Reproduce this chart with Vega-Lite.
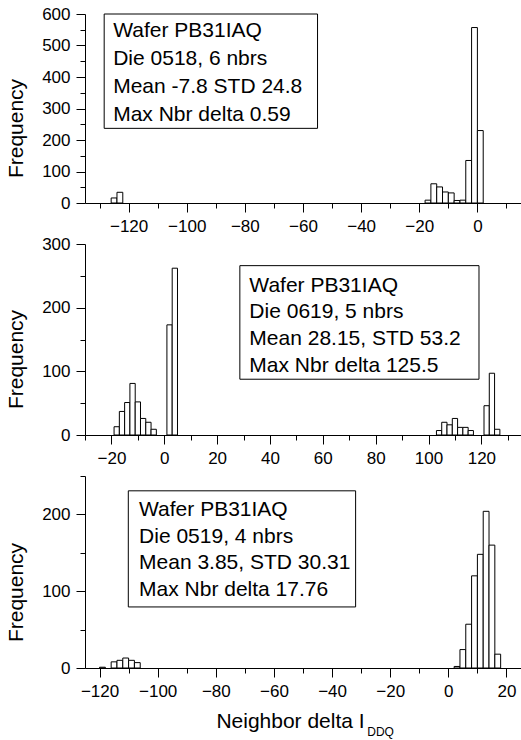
{
  "$schema": "https://vega.github.io/schema/vega-lite/v6.json",
  "background": "white",
  "padding": {"left": 5, "top": 5, "right": 0, "bottom": 0},
  "spacing": 1,
  "config": {
    "view": {"stroke": null},
    "font": "Liberation Sans",
    "axis": {
      "domainColor": "black", "tickColor": "black", "labelColor": "black", "titleColor": "black",
      "labelFont": "Liberation Sans", "titleFont": "Liberation Sans",
      "labelFontSize": 17, "titleFontSize": 21, "titleFontWeight": "normal",
      "grid": false, "tickSize": 9, "labelPadding": 6, "domainWidth": 1, "tickWidth": 1
    },
    "axisLeft": {"titlePadding": 15},
    "axisBottom": {"titlePadding": 11}
  },
  "datasets": {
    "p1": [
      {"lo": -126, "hi": -124, "freq": 16},
      {"lo": -124, "hi": -122, "freq": 34},
      {"lo": -18, "hi": -16, "freq": 9},
      {"lo": -16, "hi": -14, "freq": 61},
      {"lo": -14, "hi": -12, "freq": 51},
      {"lo": -12, "hi": -10, "freq": 35},
      {"lo": -10, "hi": -8, "freq": 32},
      {"lo": -8, "hi": -6, "freq": 8},
      {"lo": -6, "hi": -4, "freq": 9},
      {"lo": -4, "hi": -2, "freq": 135},
      {"lo": -2, "hi": 0, "freq": 557},
      {"lo": 0, "hi": 2, "freq": 230}
    ],
    "p2": [
      {"lo": -19, "hi": -17, "freq": 13},
      {"lo": -17, "hi": -15, "freq": 37},
      {"lo": -15, "hi": -13, "freq": 51},
      {"lo": -13, "hi": -11, "freq": 81},
      {"lo": -11, "hi": -9, "freq": 52},
      {"lo": -9, "hi": -7, "freq": 26},
      {"lo": -7, "hi": -5, "freq": 20},
      {"lo": -5, "hi": -3, "freq": 9},
      {"lo": 1, "hi": 3, "freq": 173},
      {"lo": 3, "hi": 5, "freq": 262},
      {"lo": 103, "hi": 105, "freq": 7},
      {"lo": 105, "hi": 107, "freq": 20},
      {"lo": 107, "hi": 109, "freq": 16},
      {"lo": 109, "hi": 111, "freq": 26},
      {"lo": 111, "hi": 113, "freq": 12},
      {"lo": 113, "hi": 115, "freq": 12},
      {"lo": 115, "hi": 117, "freq": 7},
      {"lo": 121, "hi": 123, "freq": 46},
      {"lo": 123, "hi": 125, "freq": 97},
      {"lo": 125, "hi": 127, "freq": 9}
    ],
    "p3": [
      {"lo": -120, "hi": -118, "freq": 1},
      {"lo": -116, "hi": -114, "freq": 8},
      {"lo": -114, "hi": -112, "freq": 10},
      {"lo": -112, "hi": -110, "freq": 13},
      {"lo": -110, "hi": -108, "freq": 10},
      {"lo": -108, "hi": -106, "freq": 7},
      {"lo": 2, "hi": 4, "freq": 2},
      {"lo": 4, "hi": 6, "freq": 24},
      {"lo": 6, "hi": 8, "freq": 57},
      {"lo": 8, "hi": 10, "freq": 120},
      {"lo": 10, "hi": 12, "freq": 148},
      {"lo": 12, "hi": 14, "freq": 204},
      {"lo": 14, "hi": 16, "freq": 160},
      {"lo": 16, "hi": 18, "freq": 18}
    ]
  },
  "vconcat": [
    {
      "width": 436, "height": 189,
      "resolve": {"axis": {"x": "independent", "y": "independent"}},
      "layer": [
        {
          "data": {"name": "p1"},
          "mark": {"type": "rect", "fill": "white", "stroke": "black", "strokeWidth": 1},
          "encoding": {
            "x": {"field": "lo", "type": "quantitative", "scale": {"domain": [-135, 15], "nice": false, "zero": false},
                  "axis": {"orient": "bottom", "domain": true, "values": [-120, -100, -80, -60, -40, -20, 0], "title": null}},
            "x2": {"field": "hi"},
            "y": {"field": "freq", "type": "quantitative", "scale": {"domain": [0, 600], "nice": false},
                  "axis": {"orient": "left", "domain": true, "values": [0, 100, 200, 300, 400, 500, 600], "title": "Frequency", "titleY": 114}},
            "y2": {"datum": 0}
          }
        },
        {
          "data": {"values": [{}]},
          "mark": {"type": "rect", "fill": "white", "stroke": "black", "strokeWidth": 1},
          "encoding": {
            "x": {"datum": -128.4, "type": "quantitative",
                  "axis": {"orient": "bottom", "values": [-130, -110, -90, -70, -50, -30, -10, 10], "tickSize": 5, "labels": false, "domain": false, "title": null}},
            "x2": {"datum": -55},
            "y": {"datum": 600, "type": "quantitative",
                  "axis": {"orient": "left", "values": [50, 150, 250, 350, 450, 550], "tickSize": 5, "labels": false, "domain": false, "title": null}},
            "y2": {"datum": 237}
          }
        },
        {
          "data": {"values": [{}]},
          "mark": {"type": "text", "text": ["Wafer PB31IAQ", "Die 0518, 6 nbrs", "Mean -7.8 STD 24.8", "Max Nbr delta 0.59"],
                   "align": "left", "baseline": "alphabetic", "fontSize": 21, "lineHeight": 28, "font": "Liberation Sans", "color": "black"},
          "encoding": {
            "x": {"datum": -125.3, "type": "quantitative", "axis": null},
            "y": {"datum": 526, "type": "quantitative", "axis": null}
          }
        }
      ]
    },
    {
      "width": 436, "height": 191,
      "resolve": {"axis": {"x": "independent", "y": "independent"}},
      "layer": [
        {
          "data": {"name": "p2"},
          "mark": {"type": "rect", "fill": "white", "stroke": "black", "strokeWidth": 1},
          "encoding": {
            "x": {"field": "lo", "type": "quantitative", "scale": {"domain": [-30, 135], "nice": false, "zero": false},
                  "axis": {"orient": "bottom", "domain": true, "values": [-20, 0, 20, 40, 60, 80, 100, 120], "title": null}},
            "x2": {"field": "hi"},
            "y": {"field": "freq", "type": "quantitative", "scale": {"domain": [0, 300], "nice": false},
                  "axis": {"orient": "left", "domain": true, "values": [0, 100, 200, 300], "title": "Frequency", "titleY": 115}},
            "y2": {"datum": 0}
          }
        },
        {
          "data": {"values": [{}]},
          "mark": {"type": "rect", "fill": "white", "stroke": "black", "strokeWidth": 1},
          "encoding": {
            "x": {"datum": 28.6, "type": "quantitative",
                  "axis": {"orient": "bottom", "values": [-30, -10, 10, 30, 50, 70, 90, 110, 130], "tickSize": 5, "labels": false, "domain": false, "title": null}},
            "x2": {"datum": 119.1},
            "y": {"datum": 266, "type": "quantitative",
                  "axis": {"orient": "left", "values": [50, 150, 250], "tickSize": 5, "labels": false, "domain": false, "title": null}},
            "y2": {"datum": 87.6}
          }
        },
        {
          "data": {"values": [{}]},
          "mark": {"type": "text", "text": ["Wafer PB31IAQ", "Die 0619, 5 nbrs", "Mean 28.15, STD 53.2", "Max Nbr delta 125.5"],
                   "align": "left", "baseline": "alphabetic", "fontSize": 21, "lineHeight": 26.7, "font": "Liberation Sans", "color": "black"},
          "encoding": {
            "x": {"datum": 32.2, "type": "quantitative", "axis": null},
            "y": {"datum": 225.3, "type": "quantitative", "axis": null}
          }
        }
      ]
    },
    {
      "width": 436, "height": 192,
      "resolve": {"axis": {"x": "independent", "y": "independent"}},
      "layer": [
        {
          "data": {"name": "p3"},
          "mark": {"type": "rect", "fill": "white", "stroke": "black", "strokeWidth": 1},
          "encoding": {
            "x": {"field": "lo", "type": "quantitative", "scale": {"domain": [-125, 25], "nice": false, "zero": false},
                  "axis": {"orient": "bottom", "domain": true, "values": [-120, -100, -80, -60, -40, -20, 0, 20], "title": "Neighbor delta I", "titleX": 205}},
            "x2": {"field": "hi"},
            "y": {"field": "freq", "type": "quantitative", "scale": {"domain": [0, 250], "nice": false},
                  "axis": {"orient": "left", "domain": true, "values": [0, 100, 200], "title": "Frequency", "titleY": 116}},
            "y2": {"datum": 0}
          }
        },
        {
          "data": {"values": [{}]},
          "mark": {"type": "rect", "fill": "white", "stroke": "black", "strokeWidth": 1},
          "encoding": {
            "x": {"datum": -110.1, "type": "quantitative",
                  "axis": {"orient": "bottom", "values": [-110, -90, -70, -50, -30, -10, 10], "tickSize": 5, "labels": false, "domain": false, "title": null}},
            "x2": {"datum": -31.9},
            "y": {"datum": 230.7, "type": "quantitative",
                  "axis": {"orient": "left", "values": [50, 150, 250], "tickSize": 5, "labels": true, "labelOpacity": 0, "domain": false, "title": null}},
            "y2": {"datum": 79.5}
          }
        },
        {
          "data": {"values": [{}]},
          "mark": {"type": "text", "text": ["Wafer PB31IAQ", "Die 0519, 4 nbrs", "Mean 3.85, STD 30.31", "Max Nbr delta 17.76"],
                   "align": "left", "baseline": "alphabetic", "fontSize": 21, "lineHeight": 26.5, "font": "Liberation Sans", "color": "black"},
          "encoding": {
            "x": {"datum": -106.4, "type": "quantitative", "axis": null},
            "y": {"datum": 197.5, "type": "quantitative", "axis": null}
          }
        },
        {
          "data": {"values": [{}]},
          "mark": {"type": "text", "text": "DDQ", "align": "center", "baseline": "alphabetic", "fontSize": 12, "font": "Liberation Sans", "color": "black"},
          "encoding": {
            "x": {"datum": -23.3, "type": "quantitative", "axis": null},
            "y": {"datum": -89, "type": "quantitative", "axis": null}
          }
        }
      ]
    }
  ]
}
